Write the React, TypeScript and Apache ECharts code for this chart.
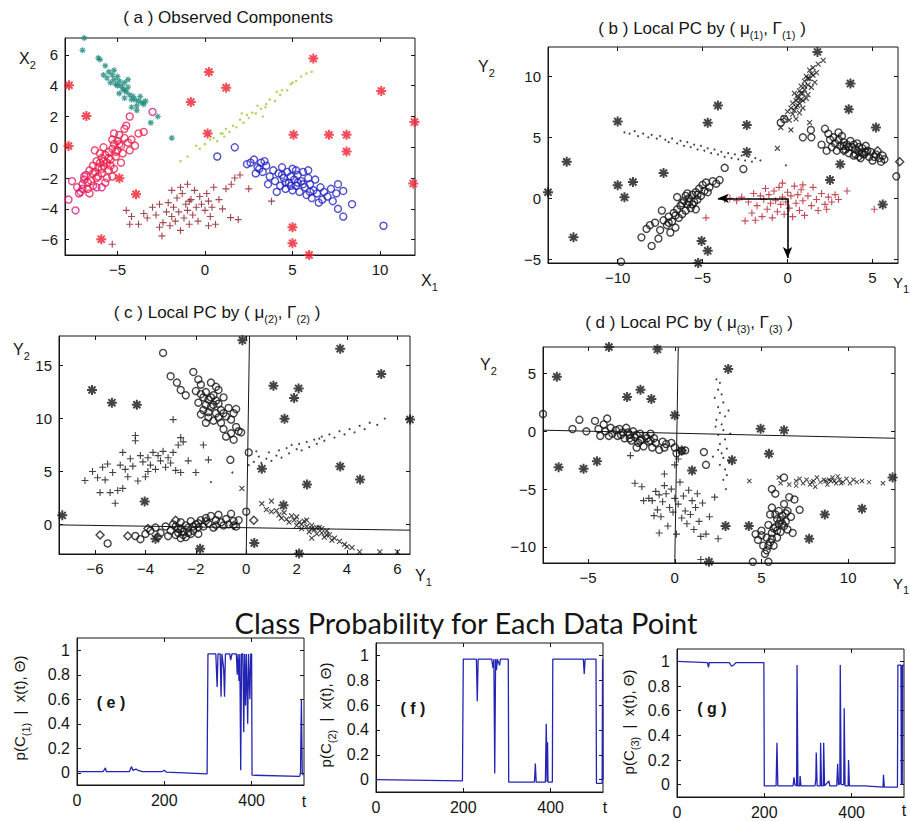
import React, { useEffect, useRef } from 'react';
import * as echarts from 'echarts';

// ---------- tick labels ----------
const aXTicks = [-5, 0, 5, 10];
const aYTicks = [-6, -4, -2, 0, 2, 4, 6];
const bXTicks = [-10, -5, 0, 5];
const bYTicks = [-5, 0, 5, 10];
const cXTicks = [-6, -4, -2, 0, 2, 4, 6];
const cYTicks = [0, 5, 10, 15];
const dXTicks = [-5, 0, 5, 10];
const dYTicks = [-10, -5, 0, 5];
const tTicks = [0, 200, 400];
const pTicks = [0, 0.2, 0.4, 0.6, 0.8, 1];

// ---------- panel (a) observed components ----------
const aTeal = [[-6.9,7.1],[-7.0,6.3],[-6.1,5.8],[-6.0,5.7],[-5.7,5.3],[-5.5,4.9],[-5.3,4.7],[-5.6,4.5],[-5.2,4.4],[-5.0,4.6],[-4.9,4.3],[-5.1,4.1],[-4.8,4.0],[-4.6,4.2],[-4.7,3.8],[-4.5,3.6],[-4.4,3.9],[-4.3,3.4],[-4.1,3.3],[-4.0,3.1],[-3.8,3.0],[-3.6,2.9],[-3.9,2.7],[-4.2,2.6],[-3.5,2.8],[-3.4,3.0],[-5.4,4.2],[-5.8,4.7],[-4.6,3.2],[-4.9,3.5],[-3.9,2.4],[-3.1,1.6],[-2.7,2.0],[-1.9,0.6],[-5.2,5.0],[-4.4,4.4],[-3.7,3.3],[-5.0,4.0],[-4.6,3.7],[-4.2,3.1]];
const aRedCircle = [[-7.3,-2.6],[-7.1,-2.9],[-7.0,-2.4],[-6.9,-2.1],[-6.7,-2.7],[-6.8,-1.8],[-6.6,-1.5],[-6.5,-2.2],[-6.4,-1.2],[-6.3,-1.6],[-6.2,-0.9],[-6.2,-2.0],[-6.1,-1.3],[-6.0,-1.0],[-5.9,-1.7],[-5.9,-0.7],[-5.8,-1.2],[-5.7,-2.3],[-5.7,-0.5],[-5.6,-1.0],[-5.5,-1.5],[-5.5,-0.3],[-5.4,-0.8],[-5.3,-0.1],[-5.3,-1.9],[-5.2,0.2],[-5.1,-0.6],[-5.0,0.4],[-5.0,-0.2],[-4.9,0.8],[-4.8,0.1],[-4.7,-0.4],[-4.6,0.6],[-4.6,1.2],[-4.4,0.3],[-4.3,-0.2],[-4.2,0.5],[-4.0,0.1],[-3.8,0.9],[-3.5,1.0],[-6.3,-0.2],[-6.0,-0.4],[-5.6,-2.0],[-6.6,-3.0],[-6.4,-2.5],[-5.2,-1.4],[-4.8,-1.0],[-4.5,1.4],[-4.3,2.0],[-5.8,0.0],[-5.2,0.9],[-6.1,-1.9],[-5.8,-0.9],[-5.5,-0.7],[-5.4,-1.2],[-5.1,-0.3],[-6.4,-1.7],[-6.7,-2.3],[-5.9,-1.4],[-4.9,0.2],[-5.3,0.5]];
const aMagentaCircle = [[-7.8,-3.4],[-7.4,-4.1],[-7.6,-2.2],[-7.2,-3.0],[-6.9,-1.9],[-7.0,-2.7],[-3.0,2.3],[-6.2,-2.6],[-5.9,-2.6]];
const aGreenDots = [[-1.4,-0.9],[-1.0,-0.6],[-0.5,0.1],[-0.3,-0.1],[0.0,0.2],[0.3,0.5],[0.5,0.6],[0.7,0.4],[0.9,0.9],[1.0,0.9],[1.1,0.7],[1.2,1.2],[1.4,1.0],[1.6,1.4],[1.8,1.3],[2.0,1.8],[2.2,1.6],[2.4,2.1],[2.5,1.9],[2.7,2.25],[2.9,2.2],[3.0,2.7],[3.2,2.5],[3.45,2.6],[3.5,2.8],[3.7,3.1],[4.0,3.0],[4.1,3.6],[4.3,3.4],[4.4,3.7],[4.7,3.7],[4.9,4.1],[5.0,4.2],[5.2,4.3],[5.5,4.6],[5.8,4.8],[6.1,4.9],[3.3,2.0],[2.1,2.2],[0.2,0.8]];
const aDarkRedPlus = [[-4.5,-4.1],[-4.2,-4.5],[-4.3,-5.0],[-3.8,-5.0],[-3.5,-4.3],[-3.3,-4.6],[-3.0,-3.9],[-2.8,-4.4],[-2.6,-5.2],[-2.46,-5.76],[-2.4,-4.9],[-2.2,-4.2],[-2.1,-3.6],[-2.0,-5.1],[-1.9,-4.5],[-1.8,-3.9],[-1.7,-4.8],[-1.6,-3.3],[-1.5,-4.2],[-1.4,-5.4],[-1.3,-3.0],[-1.2,-4.6],[-1.1,-3.7],[-1.0,-2.4],[-1.0,-4.1],[-0.9,-5.0],[-0.8,-3.4],[-0.7,-4.4],[-0.6,-2.8],[-0.5,-3.9],[-0.4,-4.8],[-0.3,-3.2],[-0.2,-3.7],[0.0,-4.1],[0.1,-3.0],[0.2,-3.5],[0.3,-4.5],[0.4,-3.9],[0.5,-2.6],[0.6,-5.0],[0.8,-3.4],[1.0,-4.0],[1.2,-2.7],[1.5,-2.4],[1.7,-2.0],[2.0,-1.8],[2.5,-2.7],[1.46,-4.57],[1.9,-4.7],[3.8,-3.5],[-5.3,-6.3],[-2.6,-3.7],[-1.9,-2.8],[0.2,-5.1],[-0.9,-3.5],[-1.4,-2.6]];
const aBlueCircle = [[0.7,-0.6],[1.7,0.0],[2.4,-1.1],[2.6,-1.0],[2.8,-0.8],[3.0,-1.3],[3.2,-1.0],[3.3,-1.6],[3.5,-1.2],[3.7,-1.9],[3.9,-1.5],[4.0,-2.2],[4.2,-1.7],[4.3,-2.5],[4.4,-1.3],[4.5,-2.0],[4.6,-2.7],[4.7,-1.6],[4.8,-2.3],[4.9,-1.9],[5.0,-2.8],[5.0,-1.4],[5.1,-2.1],[5.2,-2.5],[5.3,-1.8],[5.4,-2.9],[5.5,-2.2],[5.6,-1.6],[5.7,-2.6],[5.8,-3.1],[5.9,-2.0],[6.0,-2.4],[6.1,-3.3],[6.2,-2.8],[6.3,-2.1],[6.4,-3.0],[6.6,-2.6],[6.7,-3.4],[6.8,-2.9],[7.0,-3.2],[7.2,-2.7],[7.3,-3.5],[7.5,-3.0],[7.6,-2.4],[7.9,-2.84],[7.6,-4.0],[7.9,-4.5],[8.4,-3.7],[10.2,-5.1],[6.5,-3.6],[4.1,-2.9],[5.9,-1.5],[2.9,-1.7],[3.6,-2.4],[4.6,-2.3],[4.9,-2.5],[5.2,-1.5],[5.6,-2.4],[4.4,-1.8],[6.0,-2.9],[5.3,-2.3],[3.1,-1.4],[3.4,-0.9]];
const aRedStar = [[-7.77,4.03],[-6.78,2.03],[-7.8,0.08],[-5.93,-5.97],[-4.89,-2.01],[-3.94,-3.05],[-0.81,2.94],[0.22,4.89],[1.21,3.87],[0.15,0.89],[6.19,5.76],[5.06,0.81],[7.08,0.81],[8.09,0.81],[8.09,-0.28],[10.07,3.66],[11.97,1.64],[11.9,-2.36],[5.0,-5.2],[5.0,-6.23],[5.95,-7.0]];

// ---------- panel (b) local PC by (mu1, Gamma1) ----------
const bX = [[-0.4,5.8],[-0.2,6.6],[0.0,7.1],[0.1,6.4],[0.2,7.4],[0.3,6.9],[0.3,7.8],[0.4,7.2],[0.5,8.0],[0.5,6.5],[0.6,7.6],[0.6,8.4],[0.7,8.8],[0.7,7.0],[0.8,9.2],[0.8,8.1],[0.9,8.6],[0.9,7.4],[1.0,9.6],[1.0,8.9],[1.1,8.2],[1.1,10.0],[1.2,9.3],[1.2,8.5],[1.3,9.8],[1.3,10.5],[1.4,9.1],[1.5,10.1],[1.5,10.7],[1.6,9.5],[1.8,11.0],[2.1,11.3],[1.3,6.2],[0.2,5.6],[-0.6,4.1],[1.7,10.3],[0.4,8.6],[0.6,8.2],[0.8,8.6],[1.0,9.2],[1.2,9.8],[0.5,7.5],[0.7,7.8],[1.4,10.2],[0.9,8.0]];
const bCircleLeft = [[-9.8,-5.2],[-8.6,-3.2],[-8.0,-3.9],[-7.6,-3.3],[-8.3,-2.5],[-8.1,-2.2],[-7.8,-2.0],[-7.5,-2.6],[-7.3,-1.8],[-7.1,-2.2],[-7.0,-1.5],[-6.8,-1.9],[-6.7,-1.2],[-6.6,-2.4],[-6.5,-0.9],[-6.4,-1.6],[-6.3,-0.6],[-6.2,-1.3],[-6.1,-0.2],[-6.0,-1.0],[-5.9,-0.5],[-5.8,0.0],[-5.7,-0.8],[-5.6,0.3],[-5.5,-0.3],[-5.4,0.5],[-5.3,-0.1],[-5.2,0.8],[-5.1,0.2],[-5.0,1.1],[-4.9,0.6],[-4.8,1.3],[-4.6,0.9],[-4.4,1.4],[-4.2,1.2],[-4.0,1.5],[-3.7,2.5],[-2.6,2.4],[-6.9,-2.8],[-5.9,0.4],[-5.4,-0.9],[-6.5,0.1],[-7.4,-1.0],[-6.2,-0.4],[-5.8,-0.3],[-6.0,0.2],[-5.6,-0.5],[-6.6,-1.4],[-7.0,-2.0],[-5.3,0.3],[-4.7,0.5]];
const bCircleRight = [[-0.4,6.2],[-0.2,6.5],[0.9,5.0],[1.37,5.6],[1.4,5.0],[2.0,4.4],[2.2,5.7],[2.4,5.3],[2.5,4.8],[2.6,4.2],[2.7,5.0],[2.8,4.5],[2.9,3.9],[3.0,4.8],[3.1,4.3],[3.2,5.1],[3.3,4.6],[3.4,4.0],[3.5,4.4],[3.6,3.7],[3.7,4.7],[3.8,4.2],[3.9,3.5],[4.0,4.0],[4.1,4.5],[4.2,3.8],[4.3,3.3],[4.4,4.1],[4.5,3.6],[4.6,4.3],[4.7,3.9],[4.8,3.4],[4.9,3.8],[5.0,3.1],[5.2,3.6],[5.4,3.3],[5.5,3.0],[5.6,3.5],[5.7,3.2],[6.4,1.8],[3.0,5.4],[2.3,3.9],[3.6,4.2],[3.9,4.4],[4.2,4.2],[4.4,3.7],[3.3,4.3],[4.0,3.6],[4.6,3.8],[5.1,3.4]];
const bDiamond = [[6.6,3.0],[4.2,3.4],[3.3,3.9],[5.3,3.9]];
const bDots = [[-9.6,5.4],[-9.3,5.3],[-9.0,5.5],[-8.8,5.1],[-8.5,5.3],[-8.2,5.0],[-8.0,5.2],[-7.7,4.9],[-7.5,5.1],[-7.2,4.8],[-7.0,4.6],[-6.8,4.9],[-6.5,4.5],[-6.3,4.7],[-6.1,4.3],[-5.9,4.6],[-5.7,4.2],[-5.5,4.4],[-5.3,4.0],[-5.1,4.3],[-4.9,3.9],[-4.7,4.1],[-4.5,3.7],[-4.3,4.0],[-4.1,3.6],[-3.9,3.8],[-3.7,3.4],[-3.5,3.7],[-3.3,3.3],[-3.1,3.6],[-2.9,3.2],[-2.7,3.5],[-2.5,3.1],[-2.3,3.4],[-2.1,3.0],[-1.9,3.3],[-1.6,3.1],[-0.1,2.7]];
const bRedPlus = [[-3.7,-0.1],[-3.4,0.0],[-3.0,-0.2],[-2.7,0.1],[-2.5,-1.85],[-2.3,-0.3],[-2.1,-1.2],[-2.0,0.4],[-1.8,-0.6],[-1.6,0.2],[-1.5,-1.5],[-1.4,-0.1],[-1.3,0.8],[-1.2,-0.9],[-1.1,0.3],[-1.0,-0.4],[-0.9,-1.6],[-0.8,0.6],[-0.7,-0.2],[-0.6,-1.1],[-0.5,0.9],[-0.4,-0.5],[-0.3,1.25],[-0.3,0.1],[-0.2,-1.3],[-0.1,-0.3],[0.0,0.5],[0.1,-0.8],[0.2,0.2],[0.3,-1.5],[0.4,1.0],[0.5,-0.4],[0.6,0.3],[0.7,-1.0],[0.8,0.7],[0.9,-0.2],[1.0,-1.4],[1.2,0.2],[1.4,-0.6],[1.5,0.9],[1.7,-0.1],[1.8,-1.0],[2.0,0.4],[2.2,-0.5],[2.4,0.1],[2.6,-0.3],[2.8,0.3],[3.0,-0.1],[3.5,0.6],[5.1,-0.9],[-4.8,-1.6],[-1.9,-1.8],[0.9,1.1],[2.3,-0.9]];
const bStar = [[-14.1,0.5],[-13.0,3.0],[-12.6,-3.2],[-10.0,6.3],[-10.0,1.07],[-9.6,0.08],[-9.1,1.34],[-7.3,2.07],[-4.7,6.2],[-4.1,7.6],[-2.4,6.0],[-2.4,3.8],[-5.06,-3.5],[-4.7,-4.3],[-5.26,-5.3],[1.76,12.0],[3.7,9.4],[3.6,7.3],[5.2,5.8],[3.1,2.8],[2.5,1.5],[5.6,-0.5]];
const bArrowH = [[0, 0], [-4.1, 0]];
const bArrowV = [[0, 0], [0, -4.9]];

// ---------- panel (c) local PC by (mu2, Gamma2) ----------
const cCircleTop = [[-3.3,16.2],[-3.0,14.0],[-2.1,14.4],[-2.75,13.4],[-1.4,13.4],[-2.6,12.7],[-2.4,12.2],[-1.9,13.7],[-1.8,13.2],[-2.0,12.6],[-1.7,12.0],[-1.9,11.5],[-1.6,12.5],[-1.5,11.8],[-1.4,11.1],[-1.7,10.8],[-1.3,12.2],[-1.2,10.5],[-1.5,10.1],[-1.1,11.4],[-1.0,10.8],[-0.9,12.0],[-0.8,10.2],[-1.3,9.8],[-1.0,9.6],[-0.7,11.0],[-0.6,9.9],[-0.5,10.5],[-0.4,9.2],[-0.6,8.6],[-0.3,8.8],[-0.8,8.3],[-0.5,8.0],[-0.2,8.7],[-1.2,13.0],[-1.1,12.7],[-1.6,9.6],[-0.9,9.0],[-0.63,6.1],[0.1,6.8],[-1.8,10.4],[-0.4,10.9],[-1.5,10.6],[-1.3,11.3],[-1.1,10.1],[-0.9,10.5],[-1.4,12.0],[-1.6,11.3],[-1.2,11.7],[-1.8,12.3]];
const cPlus = [[-6.4,4.15],[-6.1,5.0],[-5.9,4.4],[-5.8,3.0],[-5.7,5.4],[-5.6,4.2],[-5.4,3.0],[-5.3,4.9],[-5.2,2.0],[-5.1,3.2],[-5.0,5.6],[-4.9,6.8],[-4.8,5.2],[-4.7,4.5],[-4.6,6.2],[-4.5,5.5],[-4.4,8.4],[-4.4,7.9],[-4.3,4.1],[-4.2,6.5],[-4.1,5.9],[-4.0,4.5],[-3.9,6.3],[-3.8,5.6],[-3.7,6.8],[-3.6,5.2],[-3.5,6.5],[-3.4,6.0],[-3.3,6.9],[-3.2,5.4],[-3.1,6.3],[-3.0,5.8],[-2.9,6.8],[-2.9,9.9],[-2.8,5.1],[-2.7,7.5],[-2.6,8.2],[-2.6,4.9],[-2.5,7.8],[-2.3,6.0],[-2.0,4.9],[-1.7,7.5],[-1.5,6.1],[-5.5,5.7],[-4.9,3.4],[-3.9,5.0]];
const cCircleBottom = [[-5.5,-1.8],[-4.4,-1.1],[-4.2,-1.4],[-4.0,-0.9],[-3.8,-0.6],[-3.6,-0.3],[-3.4,-0.8],[-3.2,-0.2],[-3.0,-0.6],[-2.9,0.0],[-2.8,-1.0],[-2.7,-0.4],[-2.6,0.2],[-2.5,-0.7],[-2.4,-1.2],[-2.3,-0.3],[-2.2,0.3],[-2.1,-0.6],[-2.0,0.0],[-1.9,-0.9],[-1.8,0.4],[-1.7,-0.2],[-1.6,0.6],[-1.5,0.1],[-1.4,0.8],[-1.3,-0.3],[-1.2,0.4],[-1.1,0.9],[-1.0,0.2],[-0.9,-0.1],[-0.8,0.5],[-0.7,0.0],[-0.6,1.0],[-0.5,0.3],[-0.4,-0.2],[-0.3,0.4],[0.0,1.2],[-2.6,-1.3],[-3.1,-1.1],[-2.2,-0.9],[-2.6,-0.4],[-2.4,-0.1],[-2.5,-1.0],[-2.7,-0.8],[-2.3,-0.8],[-2.8,-0.2],[-2.1,-0.2],[-1.9,0.1]];
const cDiamond = [[-5.8,-1.0],[-4.7,-1.1],[-3.5,-1.2],[-1.9,-0.3],[-1.2,-0.1],[-0.5,-0.1],[0.3,0.4],[-2.8,0.4],[-3.9,-0.4],[-1.6,0.3]];
const cDots = [[0.1,5.6],[0.3,5.9],[0.5,6.4],[0.6,5.8],[0.8,6.2],[0.9,6.8],[1.0,6.0],[1.2,6.5],[1.3,7.0],[1.4,6.3],[1.6,7.2],[1.7,6.7],[1.8,7.5],[2.0,7.1],[2.1,7.6],[2.2,7.0],[2.4,7.8],[2.5,7.3],[2.7,8.0],[2.8,7.6],[3.0,8.3],[3.1,7.9],[3.3,8.5],[3.5,8.2],[3.7,8.8],[3.9,8.5],[4.1,9.0],[4.3,8.7],[4.5,9.3],[4.7,9.0],[4.9,9.6],[5.2,9.4],[5.5,10.0],[-0.55,4.9],[-1.4,4.0],[0.4,6.9],[2.9,8.1]];
const cX = [[-0.17,3.4],[0.62,1.95],[1.0,2.2],[0.8,1.4],[1.0,1.2],[1.2,1.3],[1.3,0.9],[1.4,0.6],[1.5,1.1],[1.6,0.5],[1.7,0.2],[1.8,0.8],[1.9,0.4],[2.0,-0.1],[2.0,0.7],[2.1,0.2],[2.2,-0.4],[2.3,0.3],[2.4,-0.2],[2.5,-0.7],[2.6,-0.1],[2.7,-0.5],[2.8,-0.9],[2.9,-0.3],[3.0,-0.8],[3.1,-1.2],[3.2,-0.6],[3.3,-1.0],[3.4,-1.5],[3.5,-1.3],[3.7,-1.6],[3.9,-1.9],[4.0,-2.1],[4.2,-2.2],[4.5,-2.6],[5.3,-2.6],[6.0,-2.6],[2.6,-1.3],[2.2,0.0],[2.4,0.4],[2.6,-0.4],[2.8,-0.3],[3.0,-0.4],[3.2,-1.0]];
const cStar = [[-7.3,0.85],[-6.12,12.7],[-5.33,11.5],[-4.34,11.3],[-4.03,2.17],[-3.6,-1.35],[-1.83,-2.3],[-0.15,17.4],[1.08,13.1],[2.08,12.85],[1.9,11.95],[1.52,9.97],[3.73,16.6],[5.36,14.2],[6.5,9.9],[3.73,5.47],[4.52,4.25],[2.41,3.77],[0.62,5.25],[1.48,1.8],[0.32,-1.75],[2.1,-2.75]];
const cAxisV = [[0.13, 17.8], [0.0, -2.8]];
const cAxisH = [[-7.43, -0.05], [6.5, -0.55]];

// ---------- panel (d) local PC by (mu3, Gamma3) ----------
const dCircleLeft = [[-7.6,1.5],[-5.9,0.2],[-5.5,1.0],[-5.1,0.0],[-4.6,0.9],[-4.4,0.2],[-4.3,-0.4],[-4.1,0.6],[-4.0,0.0],[-3.8,-0.4],[-3.7,0.3],[-3.6,-0.2],[-3.4,0.1],[-3.3,-0.4],[-3.2,0.2],[-3.0,-0.1],[-2.9,-0.6],[-2.8,0.3],[-2.6,-0.3],[-2.5,-0.8],[-2.4,0.0],[-2.3,-0.5],[-2.1,-1.0],[-2.0,-0.2],[-1.9,-0.7],[-1.8,-1.3],[-1.7,-0.4],[-1.5,-0.9],[-1.4,-0.2],[-1.3,-1.4],[-1.2,-0.6],[-1.1,-1.0],[-0.9,-1.6],[-0.7,-0.9],[-0.5,-1.1],[-0.2,-1.0],[0.0,-1.4],[0.1,-1.9],[0.4,-1.7],[0.6,-1.65],[1.68,-1.8],[1.8,-2.9],[-3.9,1.1],[-2.2,-1.4],[-2.6,-0.6],[-2.2,-0.3],[-2.0,-0.8],[-1.6,-0.6],[-3.1,-0.3],[-2.7,-0.1],[-1.4,-0.8],[-0.6,-1.4]];
const dPlus = [[-2.56,-2.1],[-2.3,-4.5],[-1.9,-4.8],[-1.8,-6.0],[-1.5,-5.8],[-1.3,-6.0],[-1.1,-5.2],[-1.0,-6.8],[-0.9,-5.5],[-0.8,-7.4],[-0.7,-6.1],[-0.6,-4.7],[-0.5,-5.4],[-0.4,-8.2],[-0.3,-6.6],[-0.2,-5.0],[-0.1,-7.0],[0.0,-5.8],[0.0,-2.9],[0.1,-8.9],[0.2,-6.3],[0.3,-4.4],[0.4,-7.5],[0.5,-5.6],[0.6,-6.9],[0.7,-8.0],[0.8,-5.1],[0.9,-7.2],[1.0,-6.0],[1.1,-8.5],[1.2,-6.6],[1.3,-5.4],[1.4,-7.8],[1.5,-9.1],[1.6,-6.2],[1.8,-8.9],[2.0,-7.4],[2.3,-5.7],[2.5,-9.3],[-0.6,-3.7],[1.5,-11.1],[0.2,-2.4],[-0.9,-8.8],[-1.2,-7.3]];
const dDots = [[2.4,4.5],[2.6,4.2],[2.5,3.6],[2.7,3.2],[2.3,2.9],[2.8,2.5],[2.5,2.1],[2.6,1.6],[2.9,1.3],[2.4,1.0],[2.7,0.6],[2.8,0.1],[2.5,-0.3],[2.9,-0.7],[2.6,-1.1],[3.0,-1.5],[2.7,-1.9],[2.8,-2.3],[3.1,-2.6],[2.6,-2.9],[2.9,-3.3],[3.0,-3.8],[2.8,-4.2],[2.95,-5.0],[2.5,-1.6],[3.2,-0.2],[2.35,0.4],[3.1,1.8],[2.2,-2.2]];
const dCircleRight = [[4.66,-8.9],[4.8,-9.4],[5.0,-8.6],[5.1,-9.9],[5.2,-10.6],[5.3,-9.2],[5.3,-10.3],[5.4,-8.1],[5.5,-9.6],[5.5,-7.2],[5.6,-8.8],[5.6,-6.6],[5.7,-9.9],[5.8,-8.3],[5.8,-5.4],[5.9,-7.6],[5.9,-9.2],[6.0,-8.0],[6.0,-6.9],[6.1,-8.7],[6.2,-7.3],[6.3,-8.2],[6.3,-6.3],[6.4,-7.8],[6.5,-6.9],[6.6,-5.7],[6.7,-7.4],[6.8,-8.8],[6.9,-5.9],[7.2,-6.8],[6.3,-4.0],[4.5,-11.3],[5.4,-11.3],[5.0,-9.0],[6.5,-8.5],[5.6,-5.0],[5.7,-8.4],[5.9,-8.6],[6.1,-7.7],[5.6,-9.3],[5.4,-9.9],[6.2,-8.0],[5.8,-7.2],[6.4,-7.1]];
const dX = [[4.3,-4.3],[6.0,-4.0],[6.1,-4.5],[6.6,-4.6],[7.0,-4.3],[7.2,-4.1],[7.4,-4.5],[7.6,-4.2],[7.8,-4.6],[8.0,-4.3],[8.2,-4.0],[8.4,-4.4],[8.6,-4.2],[8.8,-4.6],[9.0,-4.3],[9.1,-4.0],[9.3,-4.5],[9.5,-4.2],[9.7,-4.4],[9.9,-4.1],[10.1,-4.5],[10.3,-4.2],[10.5,-4.4],[10.8,-4.3],[11.2,-4.4],[12.0,-4.5],[7.0,-4.7],[8.1,-4.8],[9.4,-3.9],[8.7,-4.3],[8.9,-4.2],[9.2,-4.3],[9.6,-4.5],[7.9,-4.4]];
const dStar = [[-6.8,4.72],[-6.7,-3.1],[-5.26,-3.25],[-4.49,-2.6],[-3.8,7.3],[-2.75,2.98],[-1.98,3.6],[-1.35,2.8],[-1.0,7.1],[0.0,1.4],[0.4,-1.65],[3.08,5.4],[3.3,-2.5],[4.95,0.23],[6.3,0.1],[5.43,-1.94],[2.93,-8.2],[4.27,-8.2],[1.97,-11.3],[8.65,-7.2],[7.75,-9.3],[10.8,-6.7],[12.56,-4.0],[1.0,-3.4]];
const dAxisV = [[0.2, 7.3], [0.0, -11.4]];
const dAxisH = [[-7.6, 0.1], [12.7, -0.6]];

// ---------- class probability time series ----------
const eProb = [[0,0.01],[60,0.01],[65,0.04],[67,0.01],[100,0.01],[120,0.01],[125,0.05],[128,0.02],[135,0.03],[140,0.02],[150,0.01],[195,0.01],[200,0.02],[205,0.005],[298,-0.01],[300,0.97],[318,0.97],[321,0.7],[323,0.97],[328,0.97],[330,0.62],[332,0.97],[336,0.85],[338,0.62],[340,0.97],[350,0.97],[352,0.92],[355,0.97],[365,0.97],[367,0.8],[369,0.97],[371,0.75],[373,0.97],[375,0.02],[377,0.97],[380,0.97],[382,0.33],[384,0.97],[386,0.55],[388,0.97],[391,0.4],[393,0.97],[396,0.6],[398,0.97],[400,0.97],[401,-0.02],[510,-0.03],[512,0.0],[514,0.6],[516,0.0],[518,-0.02]];
const fProb = [[0,0.0],[198,-0.01],[200,0.97],[230,0.97],[232,0.63],[234,0.97],[265,0.97],[268,0.9],[270,0.97],[272,0.05],[274,0.97],[276,0.88],[278,0.97],[283,0.92],[285,0.97],[303,0.97],[304,-0.02],[363,-0.02],[365,0.13],[367,-0.02],[388,-0.02],[390,0.45],[392,-0.02],[393,0.3],[394,-0.02],[404,-0.02],[405,0.97],[475,0.97],[477,0.85],[479,0.97],[504,0.97],[505,-0.03],[518,-0.03],[519,0.97],[520,0.0]];
const gProb = [[0,1.0],[70,0.99],[72,0.95],[74,0.99],[120,0.99],[125,0.96],[130,0.97],[135,0.99],[199,0.99],[200,-0.01],[227,-0.01],[229,0.34],[231,-0.01],[266,-0.01],[268,0.06],[270,0.0],[274,-0.01],[275,0.97],[277,-0.01],[281,-0.01],[282,0.07],[284,-0.01],[316,-0.01],[318,0.04],[319,0.26],[321,-0.01],[328,-0.01],[329,0.34],[331,-0.01],[335,-0.01],[336,0.34],[338,-0.01],[348,0.03],[350,-0.01],[366,-0.01],[368,0.17],[370,0.0],[373,0.01],[374,0.97],[376,0.0],[382,0.0],[383,0.62],[385,-0.01],[392,-0.01],[393,0.2],[395,-0.01],[430,-0.01],[472,-0.02],[473,0.08],[475,-0.02],[505,-0.02],[506,0.97],[513,0.97],[514,0.0],[515,0.97],[516,0.0],[517,0.97],[520,0.97]];

// ---------- layout ----------
const FONT = '"Liberation Sans", Arial, Helvetica, sans-serif';
const INK = '#151515';
const panels = [
  { left: 65, top: 38, width: 350, height: 217, x: [-8, 12], y: [-7, 7.1], xt: aXTicks, yt: aYTicks, fs: 15 },
  { left: 548, top: 47, width: 350, height: 216, x: [-14.1, 6.5], y: [-5.3, 12.4], xt: bXTicks, yt: bYTicks, fs: 15 },
  { left: 59, top: 336, width: 351, height: 218, x: [-7.43, 6.5], y: [-2.8, 17.8], xt: cXTicks, yt: cYTicks, fs: 15 },
  { left: 543, top: 347, width: 352, height: 216, x: [-7.6, 12.7], y: [-11.4, 7.3], xt: dXTicks, yt: dYTicks, fs: 15 },
  { left: 77, top: 638, width: 227, height: 147, x: [0, 520], y: [-0.1, 1.1], xt: tTicks, yt: pTicks, fs: 16 },
  { left: 376, top: 643, width: 227, height: 149, x: [0, 520], y: [-0.1, 1.1], xt: tTicks, yt: pTicks, fs: 16 },
  { left: 677, top: 649, width: 227, height: 148, x: [0, 520], y: [-0.1, 1.1], xt: tTicks, yt: pTicks, fs: 16 },
];

const ASTER = 'path://M8,0H12V20H8Z M0,8H20V12H0Z M1.52,4.34L4.34,1.52L18.48,15.66L15.66,18.48Z M15.66,1.52L18.48,4.34L4.34,18.48L1.52,15.66Z';
const PLUS = 'path://M8.4,0H11.6V20H8.4Z M0,8.4H20V11.6H0Z';

const fmt = (v: number) => (v < 0 ? '\u2212' + String(-v) : String(v));

function sc(i: number, data: number[][], symbol: string, size: number, color: string, hollow = false, rotate = 0, extra: any = {}) {
  return {
    type: 'scatter', xAxisIndex: i, yAxisIndex: i, data, symbol, symbolSize: size, symbolRotate: rotate,
    itemStyle: hollow ? { color: 'rgba(0,0,0,0)', borderColor: color, borderWidth: 1.4 } : { color },
    silent: true, clip: false, ...extra,
  };
}
function ln(i: number, data: number[][], color: string, width: number) {
  return { type: 'line', xAxisIndex: i, yAxisIndex: i, data, showSymbol: false, symbol: 'none', silent: true,
    lineStyle: { color, width }, z: 1 };
}

function buildOption() {
  const grid = panels.map(p => ({ left: p.left, top: p.top, width: p.width, height: p.height, show: true,
    borderColor: INK, borderWidth: 1, backgroundColor: 'transparent' }));
  const xAxis: any[] = [];
  const yAxis: any[] = [];
  panels.forEach((p, i) => {
    xAxis.push({ type: 'value', gridIndex: i, min: p.x[0], max: p.x[1], position: 'bottom',
      axisLine: { show: true, onZero: false, lineStyle: { color: INK } },
      axisTick: { show: true, inside: true, length: 4, customValues: p.xt, lineStyle: { color: INK } },
      axisLabel: { show: true, customValues: p.xt, formatter: fmt, color: INK, fontSize: p.fs, fontFamily: FONT, margin: 7 },
      splitLine: { show: false } });
    yAxis.push({ type: 'value', gridIndex: i, min: p.y[0], max: p.y[1], position: 'left',
      axisLine: { show: true, onZero: false, lineStyle: { color: INK } },
      axisTick: { show: true, inside: true, length: 4, customValues: p.yt, lineStyle: { color: INK } },
      axisLabel: { show: true, customValues: p.yt, formatter: fmt, color: INK, fontSize: p.fs, fontFamily: FONT, margin: 7 },
      splitLine: { show: false } });
  });
  panels.forEach((p, i) => {
    xAxis.push({ type: 'value', gridIndex: i, min: p.x[0], max: p.x[1], position: 'top',
      axisLine: { show: false, onZero: false },
      axisTick: { show: true, inside: true, length: 4, customValues: p.xt, lineStyle: { color: INK } },
      axisLabel: { show: false }, splitLine: { show: false } });
    yAxis.push({ type: 'value', gridIndex: i, min: p.y[0], max: p.y[1], position: 'right',
      axisLine: { show: false, onZero: false },
      axisTick: { show: true, inside: true, length: 4, customValues: p.yt, lineStyle: { color: INK } },
      axisLabel: { show: false }, splitLine: { show: false } });
  });

  const arrows = {
    silent: true, symbol: ['none', 'arrow'], symbolSize: [7, 11],
    lineStyle: { color: '#000', width: 1.6, type: 'solid' }, label: { show: false },
    data: [
      [{ coord: bArrowH[0] }, { coord: bArrowH[1] }],
      [{ coord: bArrowV[0] }, { coord: bArrowV[1] }],
    ],
  };

  const series: any[] = [
    // (a)
    sc(0, aGreenDots, 'circle', 2.5, '#9cc83a'),
    sc(0, aTeal, ASTER, 6, '#1f8a7c'),
    sc(0, aRedCircle, 'circle', 7, '#e81e4e', true),
    sc(0, aMagentaCircle, 'circle', 7, '#d4147c', true),
    sc(0, aDarkRedPlus, PLUS, 7, '#8b1b24'),
    sc(0, aBlueCircle, 'circle', 7, '#2525c2', true),
    sc(0, aRedStar, ASTER, 10, '#ee2030'),
    // (b)
    sc(1, bDots, 'circle', 2, INK),
    sc(1, bX, PLUS, 7, INK, false, 45),
    sc(1, bCircleLeft, 'circle', 7, INK, true),
    sc(1, bCircleRight, 'circle', 7, INK, true),
    sc(1, bDiamond, 'diamond', 8, INK, true),
    sc(1, bRedPlus, PLUS, 7, '#b5202a', false, 0, { markLine: arrows }),
    sc(1, bStar, ASTER, 10, INK),
    // (c)
    ln(2, cAxisV, INK, 1), ln(2, cAxisH, INK, 1),
    sc(2, cDots, 'circle', 2, INK),
    sc(2, cCircleTop, 'circle', 7, INK, true),
    sc(2, cPlus, PLUS, 7, INK),
    sc(2, cCircleBottom, 'circle', 7, INK, true),
    sc(2, cDiamond, 'diamond', 8, INK, true),
    sc(2, cX, PLUS, 7, INK, false, 45),
    sc(2, cStar, ASTER, 10, INK),
    // (d)
    ln(3, dAxisV, INK, 1), ln(3, dAxisH, INK, 1),
    sc(3, dDots, 'circle', 2, INK),
    sc(3, dCircleLeft, 'circle', 7, INK, true),
    sc(3, dPlus, PLUS, 7, INK),
    sc(3, dCircleRight, 'circle', 7, INK, true),
    sc(3, dX, PLUS, 6, INK, false, 45),
    sc(3, dStar, ASTER, 10, INK),
    // (e)(f)(g)
    ln(4, eProb, '#2424b4', 1.3),
    ln(5, fProb, '#2424b4', 1.3),
    ln(6, gProb, '#2424b4', 1.3),
  ];

  const sub = { s: { fontSize: 11, fontFamily: FONT, verticalAlign: 'bottom', lineHeight: 12 } };
  const txt = (x: number, y: number, text: string, size: number, align = 'center', extra: any = {}) => ({
    type: 'text', x, y, silent: true, ...extra,
    style: { text, font: `${size}px ${FONT}`, fill: INK, align, verticalAlign: 'middle', lineHeight: 24, rich: sub },
  });

  const graphic: any[] = [
    txt(228, 17, '( a ) Observed Components', 17),
    txt(702, 28, '( b ) Local PC by ( \u03bc{s|(1)}, \u0393{s|(1)} )', 17),
    txt(217, 312, '( c ) Local PC by ( \u03bc{s|(2)}, \u0393{s|(2)} )', 17),
    txt(689, 322, '( d ) Local PC by ( \u03bc{s|(3)}, \u0393{s|(3)} )', 17),
    txt(19, 58, 'X{s|2}', 16, 'left'),
    txt(421, 280, 'X{s|1}', 16, 'left'),
    txt(478, 66, 'Y{s|2}', 16, 'left'),
    txt(893, 282, 'Y{s|1}', 15, 'left'),
    txt(13, 349, 'Y{s|2}', 16, 'left'),
    txt(415, 575, 'Y{s|1}', 16, 'left'),
    txt(480, 364, 'Y{s|2}', 16, 'left'),
    txt(893, 583, 'Y{s|1}', 15, 'left'),
    {
      type: 'text', x: 466, y: 622, silent: true,
      style: { text: 'Class Probability for Each Data Point', font: `29px Lato, "Open Sans", sans-serif`, fill: INK, align: 'center', verticalAlign: 'middle' },
    },
    txt(304, 801, 't', 16),
    txt(605, 807, 't', 16),
    txt(904, 810, 't', 16),
    { type: 'text', x: 111, y: 702, silent: true, style: { text: '( e )', font: `bold 16px ${FONT}`, fill: INK, align: 'center', verticalAlign: 'middle' } },
    { type: 'text', x: 413, y: 708, silent: true, style: { text: '( f )', font: `bold 16px ${FONT}`, fill: INK, align: 'center', verticalAlign: 'middle' } },
    { type: 'text', x: 712, y: 708, silent: true, style: { text: '( g )', font: `bold 16px ${FONT}`, fill: INK, align: 'center', verticalAlign: 'middle' } },
    txt(19, 708, 'p(C{s|(1)}  |  x(t), \u0398)', 15, 'center', { rotation: Math.PI / 2 }),
    txt(325, 715, 'p(C{s|(2)}  |  x(t), \u0398)', 15, 'center', { rotation: Math.PI / 2 }),
    txt(628, 722, 'p(C{s|(3)}  |  x(t), \u0398)', 15, 'center', { rotation: Math.PI / 2 }),
  ];

  return { animation: false, backgroundColor: '#ffffff', grid, xAxis, yAxis, series, graphic };
}

export default function App() {
  const ref = useRef<HTMLDivElement>(null);
  useEffect(() => {
    if (!ref.current) return;
    const chart = echarts.init(ref.current, null, { renderer: 'svg' });
    chart.setOption(buildOption() as any);
    return () => chart.dispose();
  }, []);
  return <div ref={ref} style={{ position: 'fixed', left: 0, top: 0, width: 910, height: 821, background: '#fff' }} />;
}
